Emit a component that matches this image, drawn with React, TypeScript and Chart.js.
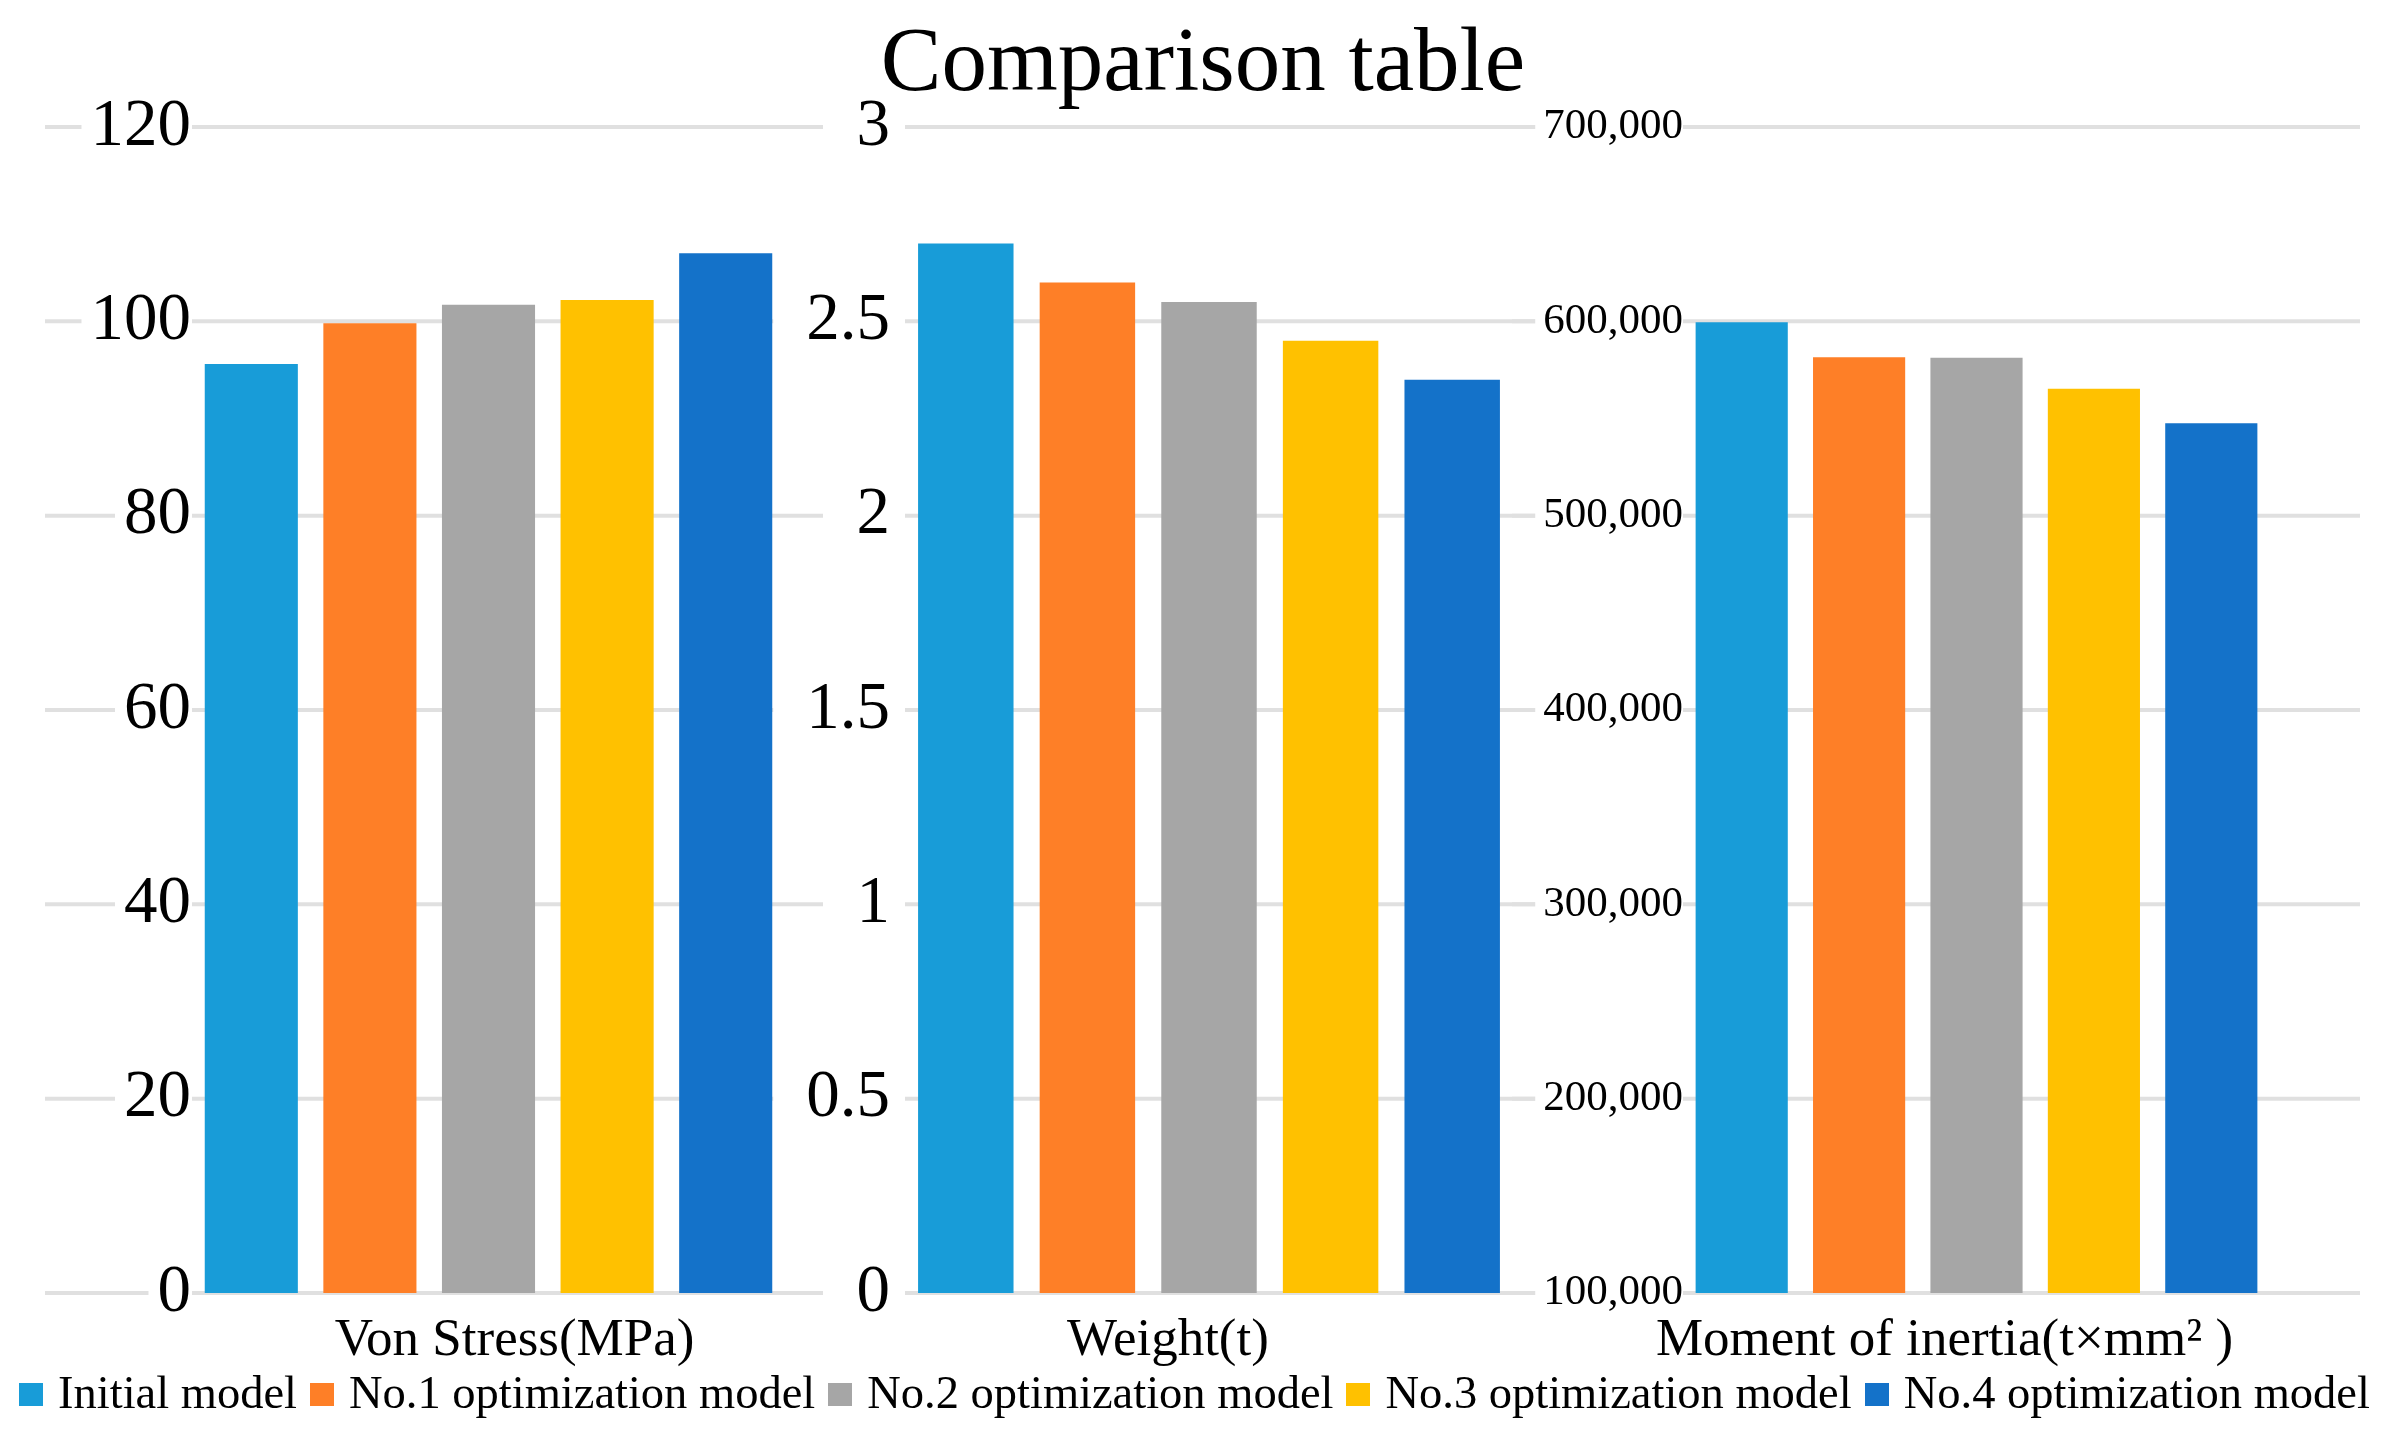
import React, { useEffect, useRef } from 'react';
import { Chart, registerables } from 'chart.js';

Chart.register(...registerables);

// ---------- data ----------
const seriesNames = [
  'Initial model',
  'No.1 optimization model',
  'No.2 optimization model',
  'No.3 optimization model',
  'No.4 optimization model',
];
const seriesColors = ['#189cd8', '#fe7f27', '#a6a6a6', '#ffc100', '#1472c9'];
const categories = ['Von Stress(MPa)', 'Weight(t)', 'Moment of inertia(t×mm² )'];
const vonStressValues = [95.6, 99.8, 101.7, 102.2, 107.0];
const weightValues = [2.7, 2.6, 2.55, 2.45, 2.35];
const inertiaValues = [599500, 581500, 581200, 565300, 547600];
const stressTicks = ['0', '20', '40', '60', '80', '100', '120'];
const weightTicks = ['0', '0.5', '1', '1.5', '2', '2.5', '3'];
const inertiaTicks = ['100,000', '200,000', '300,000', '400,000', '500,000', '600,000', '700,000'];
const titleText = 'Comparison table';

// ---------- layout ----------
const W = 2393;
const H = 1443;
const AREA_TOP = 127;
const AREA_BOTTOM = 1293;
const Y_W = 150;
const X_H = 100;
const FONT = "'Liberation Serif', 'Times New Roman', serif";

type Panel = {
  category: string;
  values: number[];
  min: number;
  max: number;
  step: number;
  ticks: string[];
  tickSize: number;
  left: number;
  right: number;
  tickPad: number;
  backdrop: { left: number; right: number };
  grid: [number, number];
  labelOffset: number;
};

const panels: Panel[] = [
  {
    category: categories[0], values: vonStressValues, min: 0, max: 120, step: 20, ticks: stressTicks,
    tickSize: 67, left: 192, right: 785, tickPad: 1, backdrop: { left: 9, right: 9 }, grid: [45, 823], labelOffset: 26,
  },
  {
    category: categories[1], values: weightValues, min: 0, max: 3, step: 0.5, ticks: weightTicks,
    tickSize: 67, left: 905, right: 1513, tickPad: 15, backdrop: { left: 33, right: 19 }, grid: [905, 1545], labelOffset: -41,
  },
  {
    category: categories[2], values: inertiaValues, min: 100000, max: 700000, step: 100000, ticks: inertiaTicks,
    tickSize: 43, left: 1683, right: 2270, tickPad: 0, backdrop: { left: 8, right: 6 }, grid: [1512, 2360], labelOffset: -32,
  },
];

function PanelChart({ p }: { p: Panel }) {
  const ref = useRef<HTMLCanvasElement | null>(null);
  useEffect(() => {
    if (!ref.current) return;
    const gridPlugin = {
      id: 'fullGrid',
      beforeDraw(chart: any) {
        const { ctx } = chart;
        const ys = chart.scales.y;
        ctx.save();
        ctx.strokeStyle = '#e0e0e0';
        ctx.lineWidth = 4;
        ys.ticks.forEach((t: any) => {
          const py = ys.getPixelForValue(t.value);
          ctx.beginPath();
          ctx.moveTo(p.grid[0], py);
          ctx.lineTo(p.grid[1], py);
          ctx.stroke();
        });
        ctx.restore();
      },
    };
    const chart = new Chart(ref.current, {
      type: 'bar',
      data: {
        labels: [p.category],
        datasets: seriesNames.map((name, i) => ({
          label: name,
          data: [p.values[i]],
          backgroundColor: seriesColors[i],
          borderWidth: 0,
          barPercentage: 0.785,
          categoryPercentage: 1,
        })),
      },
      options: {
        responsive: false,
        animation: false,
        devicePixelRatio: 1,
        layout: {
          padding: {
            left: p.left - Y_W,
            right: W - p.right,
            top: AREA_TOP,
            bottom: H - AREA_BOTTOM - X_H,
          },
        },
        plugins: {
          legend: { display: false },
          title: { display: false },
          tooltip: { enabled: false },
        },
        scales: {
          x: {
            grid: { display: false, drawTicks: false },
            border: { display: false },
            ticks: {
              color: '#000',
              font: { family: FONT, size: 53 },
              padding: 16,
              labelOffset: p.labelOffset,
              maxRotation: 0,
              autoSkip: false,
            },
            afterFit: (s: any) => {
              s.height = X_H;
            },
          },
          y: {
            min: p.min,
            max: p.max,
            grid: { display: false, drawTicks: false },
            border: { display: false },
            ticks: {
              stepSize: p.step,
              color: '#000',
              font: { family: FONT, size: p.tickSize },
              padding: p.tickPad,
              showLabelBackdrop: true,
              backdropColor: '#ffffff',
              backdropPadding: { top: 0, bottom: 0, left: p.backdrop.left, right: p.backdrop.right },
              callback: (_v: any, i: number) => p.ticks[i],
            },
            afterFit: (s: any) => {
              s.width = Y_W;
            },
          },
        },
      } as any,
      plugins: [gridPlugin],
    });
    return () => chart.destroy();
  }, [p]);
  return (
    <canvas
      ref={ref}
      width={W}
      height={H}
      style={{ position: 'absolute', left: 0, top: 0, width: W, height: H }}
    />
  );
}

export default function App() {
  return (
    <div
      style={{
        position: 'absolute',
        left: 0,
        top: 0,
        width: W,
        height: H,
        background: '#fff',
        overflow: 'hidden',
        fontFamily: FONT,
      }}
    >
      {panels.map((p, i) => (
        <PanelChart key={i} p={p} />
      ))}
      <div
        style={{
          position: 'absolute',
          left: 1203,
          top: 14,
          transform: 'translateX(-50%)',
          fontSize: 91,
          lineHeight: '91px',
          whiteSpace: 'nowrap',
          color: '#000',
        }}
      >
        {titleText}
      </div>
      <div
        style={{
          position: 'absolute',
          left: -2,
          top: 1370,
          width: W,
          height: 46,
          display: 'flex',
          justifyContent: 'center',
          alignItems: 'center',
          fontSize: 46.5,
          lineHeight: '46px',
          whiteSpace: 'nowrap',
          color: '#000',
        }}
      >
        {seriesNames.map((name, i) => (
          <div key={i} style={{ display: 'flex', alignItems: 'center', marginLeft: i === 0 ? 0 : 13 }}>
            <span
              style={{
                display: 'inline-block',
                width: 24,
                height: 23,
                background: seriesColors[i],
                marginRight: 15,
                marginTop: 3,
              }}
            />
            <span>{name}</span>
          </div>
        ))}
      </div>
    </div>
  );
}
